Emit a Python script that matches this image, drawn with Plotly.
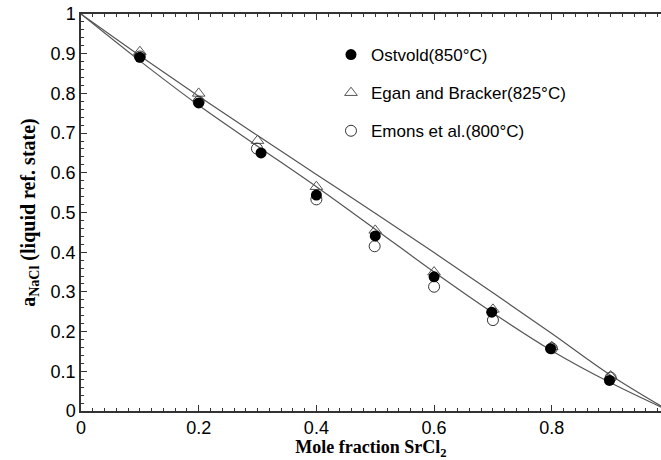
import plotly.graph_objects as go

# Experimental points (x = mole fraction SrCl2, y = a_NaCl)
ostvold_x = [0.1, 0.2, 0.306, 0.4, 0.5, 0.6, 0.698, 0.798, 0.898]
ostvold_y = [0.891, 0.776, 0.650, 0.544, 0.441, 0.338, 0.249, 0.157, 0.077]

egan_x = [0.1, 0.2, 0.3, 0.4, 0.5, 0.6, 0.7, 0.8, 0.9]
egan_y = [0.905, 0.800, 0.681, 0.565, 0.455, 0.350, 0.256, 0.162, 0.088]

emons_x = [0.1, 0.2, 0.299, 0.4, 0.499, 0.6, 0.7, 0.8, 0.9]
emons_y = [0.893, 0.779, 0.661, 0.533, 0.415, 0.313, 0.229, 0.158, 0.084]

# Model curves
curve_x = [0.0, 0.1, 0.2, 0.3, 0.4, 0.5, 0.6, 0.7, 0.8, 0.9, 1.0]
upper_y = [1.0, 0.895, 0.793, 0.694, 0.596, 0.498, 0.399, 0.298, 0.195, 0.090, 0.0]
lower_y = [1.0, 0.882, 0.770, 0.667, 0.565, 0.458, 0.350, 0.247, 0.152, 0.071, 0.0]

x_ticks = [0, 0.2, 0.4, 0.6, 0.8]
x_tick_labels = ["0", "0.2", "0.4", "0.6", "0.8"]
y_ticks = [0, 0.1, 0.2, 0.3, 0.4, 0.5, 0.6, 0.7, 0.8, 0.9, 1]
y_tick_labels = ["0", "0.1", "0.2", "0.3", "0.4", "0.5", "0.6", "0.7", "0.8", "0.9", "1"]

line_col = "#555555"

fig = go.Figure()
fig.add_trace(go.Scatter(x=curve_x, y=upper_y, mode="lines", line=dict(color=line_col, width=1.2, shape="spline"),
                         showlegend=False, hoverinfo="skip"))
fig.add_trace(go.Scatter(x=curve_x, y=lower_y, mode="lines", line=dict(color=line_col, width=1.2, shape="spline"),
                         showlegend=False, hoverinfo="skip"))
fig.add_trace(go.Scatter(x=egan_x, y=egan_y, mode="markers", name="Egan and Bracker(825°C)",
                         legendgroup="b", legendrank=2,
                         marker=dict(symbol="triangle-up-open", size=11, color="#555555", line=dict(width=1))))
fig.add_trace(go.Scatter(x=emons_x, y=emons_y, mode="markers", name="Emons et al.(800°C)",
                         legendgroup="c", legendrank=3,
                         marker=dict(symbol="circle-open", size=11, color="#333333", line=dict(width=1))))
fig.add_trace(go.Scatter(x=ostvold_x, y=ostvold_y, mode="markers", name="Ostvold(850°C)",
                         legendgroup="a", legendrank=1,
                         marker=dict(symbol="circle", size=11, color="black")))

axis_common = dict(
    showgrid=False, zeroline=False, showline=True, linecolor="#333333", linewidth=1.5,
    ticks="inside", ticklen=6, tickwidth=1, tickcolor="#333333", automargin=False,
    tickfont=dict(family="Liberation Sans, Arial, sans-serif", size=18, color="black"),
)

fig.update_xaxes(
    **axis_common, range=[0, 0.9856], tickvals=x_ticks, ticktext=x_tick_labels, mirror="allticks",
    minor=dict(dtick=0.02, ticks="inside", ticklen=3, tickcolor="#333333", showgrid=False),
    title=dict(text="<b>Mole fraction SrCl<sub>2</sub></b>", standoff=5,
               font=dict(family="Liberation Serif, Times New Roman, serif", size=18, color="black")),
)
fig.update_yaxes(
    **axis_common, range=[0, 1], tickvals=y_ticks, ticktext=y_tick_labels, mirror=False,
    minor=dict(dtick=0.02, ticks="inside", ticklen=3, tickcolor="#333333", showgrid=False),
    title=dict(text="<b>a<sub>NaCl</sub> (liquid ref. state)</b>", standoff=10,
               font=dict(family="Liberation Serif, Times New Roman, serif", size=20, color="black")),
)

fig.update_layout(
    width=661, height=460,
    margin=dict(l=81, r=0, t=14, b=49),
    plot_bgcolor="white", paper_bgcolor="white",
    legend=dict(x=0.431, y=0.942, xanchor="left", yanchor="top", traceorder="grouped",
                tracegroupgap=13, bgcolor="rgba(0,0,0,0)",
                font=dict(family="Liberation Sans, Arial, sans-serif", size=17, color="black")),
)

fig.write_html(
    "out.html",
    config={"displayModeBar": False},
    post_script="document.body.style.margin='0';document.body.style.overflow='hidden';",
)
